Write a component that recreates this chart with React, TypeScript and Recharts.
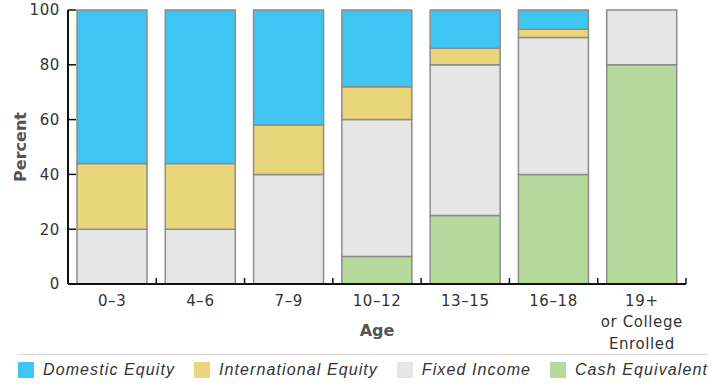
import React from 'react';
import { BarChart, Bar, XAxis, YAxis } from 'recharts';

const ages = ['0–3', '4–6', '7–9', '10–12', '13–15', '16–18', '19+\nor College\nEnrolled'];
const domesticEquity = [56, 56, 42, 28, 14, 7, 0];
const internationalEquity = [24, 24, 18, 12, 6, 3, 0];
const fixedIncome = [20, 20, 40, 50, 55, 50, 20];
const cashEquivalent = [0, 0, 0, 10, 25, 40, 80];
const percentTicks = [0, 20, 40, 60, 80, 100];

const series = [
  { key: 'cash', name: 'Cash Equivalent', color: '#b6da9b', values: cashEquivalent },
  { key: 'fixed', name: 'Fixed Income', color: '#e6e6e6', values: fixedIncome },
  { key: 'intl', name: 'International Equity', color: '#e9d67b', values: internationalEquity },
  { key: 'domestic', name: 'Domestic Equity', color: '#3ec6f2', values: domesticEquity },
];
const legendOrder = ['domestic', 'intl', 'fixed', 'cash'];

const data = ages.map((age, i) => {
  const row: Record<string, string | number> = { age };
  series.forEach((s) => { row[s.key] = s.values[i]; });
  return row;
});

const W = 720;
const H = 352;
const LEFT = 68;
const RIGHT = 34;
const halfBand = (W - LEFT - RIGHT) / ages.length / 2;
const tickFont = '"DejaVu Sans", Verdana, sans-serif';

// category tick: label lines plus a short upward mark at the band's right edge
const AgeTick = (props: any) => {
  const { x, y, payload } = props;
  const lines = String(payload.value).split('\n');
  const axisY = y - 11;
  return (
    <g>
      <line x1={x + halfBand} x2={x + halfBand} y1={axisY} y2={axisY - 6} stroke="#111" strokeWidth={1.5} />
      <text x={x} y={y} textAnchor="middle" fill="#333" fontSize={15} fontFamily={tickFont} letterSpacing={0.6}>
        {lines.map((l, i) => (
          <tspan key={i} x={x} dy={i === 0 ? '0.73em' : 21.5}>{l}</tspan>
        ))}
      </text>
    </g>
  );
};

export default function App() {
  return (
    <div style={{ position: 'absolute', left: 0, top: 0, width: W, height: 390, background: '#fff' }}>
      <BarChart width={W} height={H} data={data} margin={{ top: 10, right: RIGHT, left: 0, bottom: 0 }} barCategoryGap={9}>
        <XAxis
          dataKey="age"
          height={68}
          interval={0}
          tickLine={false}
          tickSize={0}
          tickMargin={11}
          axisLine={{ stroke: '#111', strokeWidth: 2 }}
          tick={<AgeTick />}
          label={{ value: 'Age', position: 'insideBottom', offset: 16, fill: '#555', fontSize: 16, fontWeight: 'bold', fontFamily: tickFont }}
        />
        <YAxis
          width={LEFT}
          domain={[0, 100]}
          ticks={percentTicks}
          interval={0}
          tickSize={-8}
          tickMargin={16}
          stroke="#111"
          axisLine={{ stroke: '#111', strokeWidth: 2 }}
          tickLine={{ stroke: '#111', strokeWidth: 1.5 }}
          tick={{ fill: '#333', fontSize: 15, fontFamily: tickFont, letterSpacing: 0.6 }}
          label={{ value: 'Percent', angle: -90, position: 'insideLeft', offset: 20, fill: '#555', fontSize: 16, fontWeight: 'bold', fontFamily: tickFont, style: { textAnchor: 'middle' } }}
        />
        {series.map((s) => (
          <Bar key={s.key} dataKey={s.key} name={s.name} stackId="a" fill={s.color} stroke="#8c8c8c" strokeWidth={1.5} isAnimationActive={false} />
        ))}
      </BarChart>
      <div style={{ position: 'absolute', left: 18, top: 354, width: 690, borderTop: '1.5px solid #d9d2d2' }} />
      <div
        style={{
          position: 'absolute', left: 18, top: 361, width: 690, display: 'flex', justifyContent: 'space-between',
          fontFamily: '"Liberation Sans", Arial, sans-serif', fontStyle: 'italic', fontSize: 16, letterSpacing: 1.1, color: '#333',
        }}
      >
        {legendOrder.map((k) => {
          const s = series.find((x) => x.key === k)!;
          return (
            <div key={k} style={{ display: 'flex', alignItems: 'center', height: 17 }}>
              <span style={{ display: 'inline-block', width: 16, height: 16, background: s.color, marginRight: 9 }} />
              <span style={{ lineHeight: '17px' }}>{s.name}</span>
            </div>
          );
        })}
      </div>
    </div>
  );
}
